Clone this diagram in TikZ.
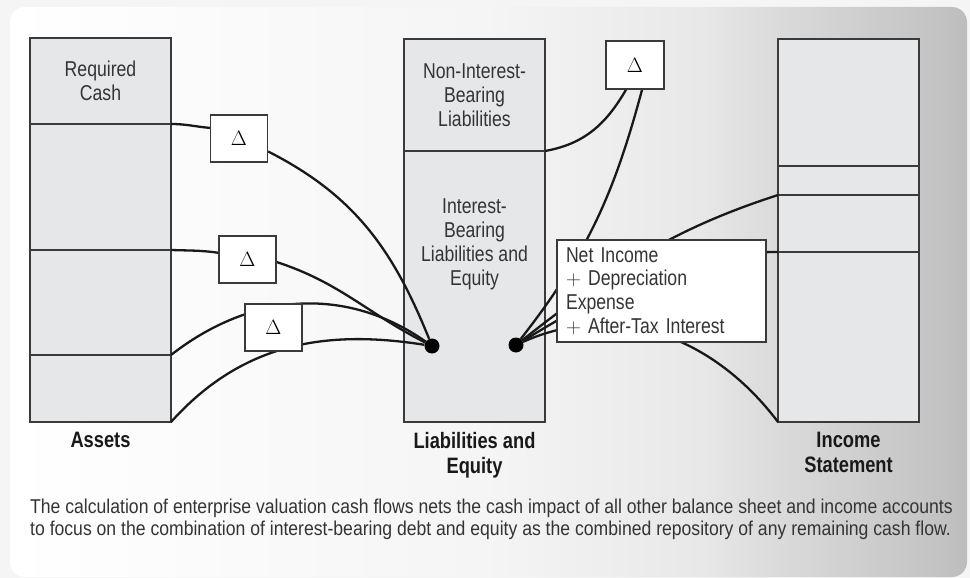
\documentclass[tikz,border=0pt]{standalone}
\usepackage[no-math]{fontspec}
\setmainfont{Liberation Sans}[FakeStretch=0.82]
\newfontfamily\notefamily{Liberation Sans}[FakeStretch=0.88]
\usetikzlibrary{positioning}

\definecolor{cellfill}{RGB}{230,231,233}
\definecolor{rulegray}{RGB}{58,58,60}
\definecolor{inkgray}{RGB}{52,52,54}

\newcommand{\cellfont}{\fontsize{21.5}{24}\selectfont}
\newcommand{\tagfont}{\fontsize{22.3}{25}\selectfont\bfseries}
\newcommand{\notefont}{\notefamily\fontsize{20}{22}\selectfont}
\newcommand{\deltafont}{\fontsize{20}{22}\selectfont}

\pgfdeclarelayer{bg}
\pgfdeclarelayer{links}
\pgfsetlayers{bg,links,main}

\pgfdeclarehorizontalshading{panelfade}{100bp}{color(0bp)=(white); color(25bp)=(white);
  color(50bp)=(black!4); color(61bp)=(black!9); color(64bp)=(black!13);
  color(73bp)=(black!23); color(75bp)=(black!26); color(100bp)=(black!26)}

\tikzstyle{cell} = [rectangle, draw=rulegray, fill=cellfill, line width=1.2pt,
    minimum width=141pt, inner sep=0pt, outer sep=0pt, align=center,
    text=inkgray, font=\cellfont]
\tikzstyle{delta} = [rectangle, draw=rulegray, fill=white, line width=1.3pt,
    minimum width=57pt, minimum height=47pt, inner sep=0pt, font=\deltafont]
\tikzstyle{hub} = [circle, fill=black, inner sep=0pt, minimum size=15pt]
\tikzstyle{tag} = [inner sep=0pt, align=center, text=black!90, font=\tagfont]
\tikzstyle{link} = [draw, line width=2.3pt, color=black!90]

\begin{document}
\begin{tikzpicture}[x=1pt, y=1pt]
    \useasboundingbox (0,0) rectangle (970,-578);

    \begin{pgfonlayer}{bg}
    \fill [black!4] (0,0) rectangle (970,-578);
    \shade [rounded corners=15pt, shading=panelfade] (10,-7) rectangle (967,-577);

    % balance sheet: assets
    \node [cell, minimum height=86pt, anchor=north west] (cash) at (30,-38) {Required\\Cash};
    \node [cell, minimum height=126pt, below=0pt of cash] (recv) {};
    \node [cell, minimum height=105pt, below=0pt of recv] (inv) {};
    \node [cell, minimum height=67pt, below=0pt of inv] (other) {};

    % liabilities and equity
    \node [cell, minimum height=112pt, anchor=north west] (nonint) at (404,-39) {Non-Interest-\\Bearing\\Liabilities};
    \node [cell, minimum height=271pt, below=0pt of nonint] (intb) {};
    \node [align=center, text=inkgray, font=\cellfont, inner sep=0pt] (ibtext) at (474.5,-244) {Interest-\\Bearing\\Liabilities and\\Equity};

    % income statement
    \node [cell, minimum height=127pt, anchor=north west] (isec1) at (778,-39) {};
    \node [cell, minimum height=29pt, below=0pt of isec1] (isec2) {};
    \node [cell, minimum height=57pt, below=0pt of isec2] (isec3) {};
    \node [cell, minimum height=170pt, below=0pt of isec3] (isec4) {};
    \end{pgfonlayer}

    \node [tag, below=10pt of other] (assetstag) {Assets};
    \node [tag, below=10pt of intb] (liabtag) {Liabilities and\\Equity};
    \node [tag, below=10pt of isec4] (incometag) {Income\\Statement};

    \node [delta] (d1) at (239,-138.5) {$\Delta$};
    \node [delta] (d2) at (247.5,-259.5) {$\Delta$};
    \node [delta] (d3) at (273.5,-327.5) {$\Delta$};
    \node [delta, minimum width=58pt, minimum height=48pt] (d4) at (635,-65) {$\Delta$};

    \node [hub] (hubL) at (432,-346) {};
    \node [hub] (hubR) at (516,-345) {};

    \node [rectangle, draw=rulegray, fill=white, line width=1.3pt, text width=191pt,
           inner xsep=9pt, inner ysep=0pt, minimum height=102pt, align=left,
           text=inkgray, font=\fontsize{21.5}{23.7}\selectfont] (ni) at (661.5,-291)
        {Net Income\\$+$ Depreciation\\Expense\\$+$ After-Tax Interest};

    \node [anchor=north west, inner sep=0pt, align=left, text=inkgray, font=\notefont] (note) at (30,-499)
        {The calculation of enterprise valuation cash flows nets the cash impact of all other balance sheet and income accounts\\
         to focus on the combination of interest-bearing debt and equity as the combined repository of any remaining cash flow.};

    % everything nets into the interest-bearing block
    \begin{pgfonlayer}{links}
    \path [link] (recv.north east) to[out=0, in=175] (d1.160);
    \path [link] (d1.-24) to[out=-27, in=112] (hubL);
    \path [link] (inv.north east) to[out=-2, in=172] (d2.167);
    \path [link] (d2.-5) to[out=-18, in=153] (hubL);
    \path [link] (other.north east) to[out=38, in=145] (hubL);
    \path [link] (other.south east) to[out=48, in=171] (hubL);

    \path [link] (nonint.south east) to[out=10, in=-120] (d4.-110);
    \path [link] (hubR) to[out=52, in=-105] (d4.-74);
    \path [link] (hubR) to[out=38, in=198] (isec3.north west);
    \path [link] (hubR) to[out=31, in=180] (isec4.north west);
    \path [link] (hubR) to[out=24, in=127] (isec4.south west);
    \end{pgfonlayer}
\end{tikzpicture}
\end{document}
